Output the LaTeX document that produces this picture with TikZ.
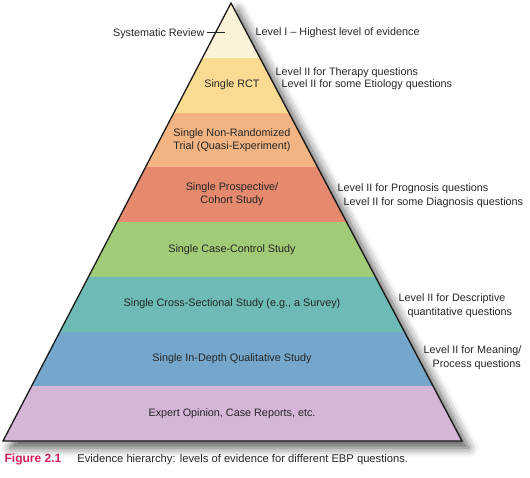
\documentclass[tikz,border=0pt]{standalone}
\usepackage{fontspec}
\setmainfont{Liberation Sans}
\usetikzlibrary{shadows.blur}
\definecolor{sysrev}{HTML}{FCF2D8}
\definecolor{rct}{HTML}{FBDB91}
\definecolor{nonrand}{HTML}{F2B482}
\definecolor{prosp}{HTML}{E5896F}
\definecolor{casectl}{HTML}{A2CB78}
\definecolor{crosssec}{HTML}{6EBAB4}
\definecolor{indepth}{HTML}{74A7CB}
\definecolor{expert}{HTML}{D4B6D6}
\definecolor{figred}{HTML}{D2205A}
\definecolor{inktext}{HTML}{262626}
\tikzset{
  lvl/.style={font=\fontsize{10.8}{13}\selectfont, text=inktext, inner sep=0pt},
  band/.style={lvl, align=center},
}
\begin{document}
\begin{tikzpicture}[x=1pt, y=-1pt, line width=1.3pt]
  \useasboundingbox (0,0) rectangle (530,477);
  \fill[white, blur shadow={shadow xshift=7pt, shadow yshift=-7pt, shadow blur radius=9pt, shadow opacity=65}] (231,3) -- (462,441) -- (3,441) -- cycle;
  \begin{scope}
    \clip (231,3) -- (462,441) -- (3,441) -- cycle;
    \fill[sysrev] (0,0) rectangle (530,57.75);
    \fill[rct] (0,57.75) rectangle (530,112.5);
    \fill[nonrand] (0,112.5) rectangle (530,167.25);
    \fill[prosp] (0,167.25) rectangle (530,222);
    \fill[casectl] (0,222) rectangle (530,276.75);
    \fill[crosssec] (0,276.75) rectangle (530,331.5);
    \fill[indepth] (0,331.5) rectangle (530,386.25);
    \fill[expert] (0,386.25) rectangle (530,441);
  \end{scope}
  \draw[draw=black!90, line join=miter] (231,3) -- (462,441) -- (3,441) -- cycle;
  \node[band] (rct) at (232,85.1) {Single RCT};
  \node[band] (nonrand) at (232,139.9) {Single Non-Randomized\\Trial (Quasi-Experiment)};
  \node[band] (prosp) at (232,194.6) {Single Prospective/\\Cohort Study};
  \node[band] (casectl) at (232,249.4) {Single Case-Control Study};
  \node[band] (crosssec) at (232,304.1) {Single Cross-Sectional Study (e.g., a Survey)};
  \node[band] (indepth) at (232,358.9) {Single In-Depth Qualitative Study};
  \node[band] (expert) at (232,413.6) {Expert Opinion, Case Reports, etc.};
  \node[lvl, anchor=base east] (sysrev) at (205,36) {Systematic Review};
  \coordinate (tick) at (225,32);
  \draw[line width=0.6pt, black!85] (sysrev.east |- tick) ++(2,0) -- (tick);
  \node[lvl, anchor=base west] (lvlone) at (255,35) {Level I -- Highest level of evidence};
  \node[lvl, anchor=base west] (therapy) at (275,75) {Level II for Therapy questions};
  \node[lvl, anchor=base west] (etiology) at (281,87) {Level II for some Etiology questions};
  \node[lvl, anchor=base west] (prognosis) at (337,191) {Level II for Prognosis questions};
  \node[lvl, anchor=base west] (diagnosis) at (343,205) {Level II for some Diagnosis questions};
  \node[lvl, anchor=base west] (descr) at (398,301) {Level II for Descriptive};
  \node[lvl, anchor=base west] (quant) at (407,315) {quantitative questions};
  \node[lvl, anchor=base west] (meaning) at (423,353) {Level II for Meaning/};
  \node[lvl, anchor=base west] (process) at (432,367) {Process questions};
  \node[inner sep=0pt, anchor=base west] (caption) at (4,462) {{\fontsize{12}{14}\selectfont\bfseries\color{figred}Figure 2.1}\hspace{16pt}{\fontsize{11.2}{13}\selectfont\color{inktext}Evidence hierarchy: levels of evidence for different EBP questions.}};
\end{tikzpicture}
\end{document}
